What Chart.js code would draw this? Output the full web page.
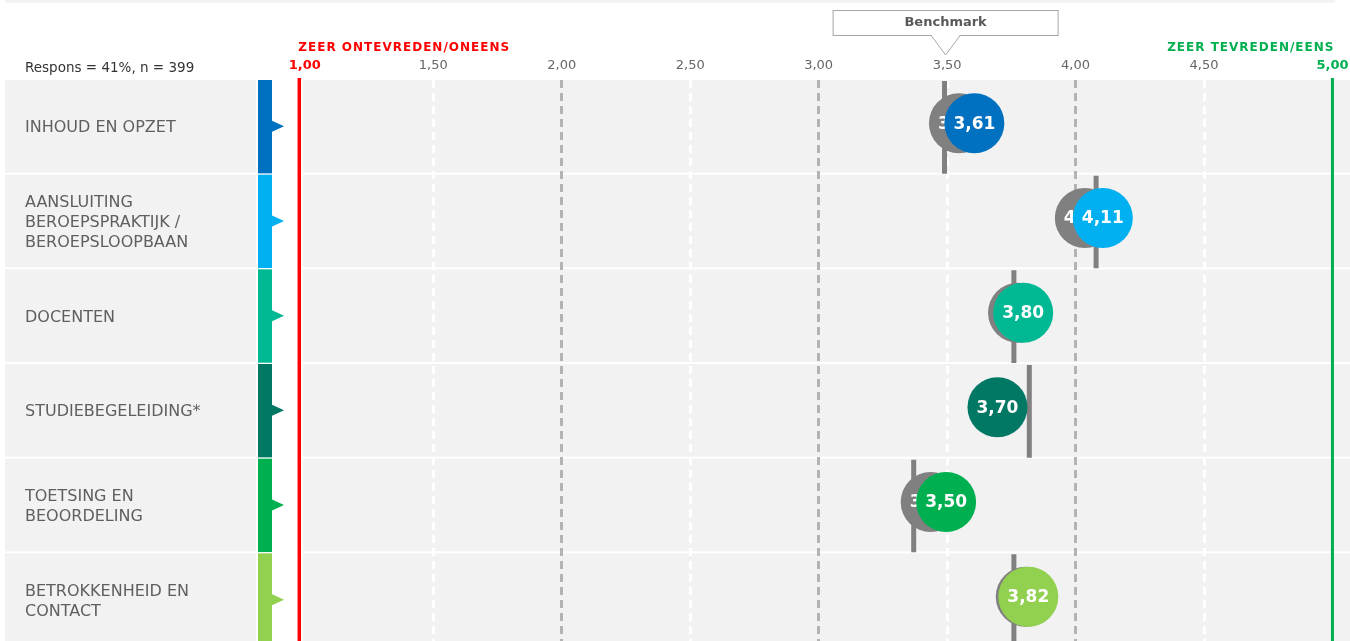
<!DOCTYPE html>
<html>
<head>
<meta charset="utf-8">
<script src="https://cdn.jsdelivr.net/npm/chart.js@4.4.0/dist/chart.umd.min.js"></script>
<style>
  html, body { margin: 0; padding: 0; overflow: hidden; background: #fff; }
  #wrap { width: 1350px; height: 648px; position: relative; }
</style>
</head>
<body>
<div id="wrap"><canvas id="chart-scores"></canvas></div>
<script>
// rows, top to bottom
const categories = [
  ['INHOUD EN OPZET'],
  ['AANSLUITING', 'BEROEPSPRAKTIJK /', 'BEROEPSLOOPBAAN'],
  ['DOCENTEN'],
  ['STUDIEBEGELEIDING*'],
  ['TOETSING EN', 'BEOORDELING'],
  ['BETROKKENHEID EN', 'CONTACT']
];
const scores    = [3.61, 4.11, 3.80, 3.70, 3.50, 3.82];
const previous  = [3.55, 4.04, 3.78, null, 3.44, 3.81];
const benchmark = [3.49, 4.08, 3.76, 3.82, 3.37, 3.76];
const tickValues = [1, 1.5, 2, 2.5, 3, 3.5, 4, 4.5, 5];
const tickLabels = ['1,00', '1,50', '2,00', '2,50', '3,00', '3,50', '4,00', '4,50', '5,00'];
const calloutValue = 3.5;

const rowColors = ['#0070c0', '#00b0f0', '#00b894', '#007864', '#00b050', '#92d050'];
const FONT = 'DejaVu Sans';
const grey = '#808080';

const fmt = v => v.toFixed(2).replace('.', ',');

const rowsPlugin = {
  id: 'rows',
  beforeDraw(chart) {
    const ctx = chart.ctx, xs = chart.scales.x, ys = chart.scales.y;
    const W = chart.width;
    ctx.save();
    // thin bar on top
    ctx.fillStyle = '#f2f2f2';
    ctx.fillRect(5, 0, 1330, 2.5);

    const left = xs.getPixelForValue(1) - 2;
    categories.forEach((lines, i) => {
      const y0 = ys.getPixelForValue(i), y1 = ys.getPixelForValue(i + 1);
      const h = y1 - y0;
      ctx.fillStyle = '#f2f2f2';
      ctx.fillRect(5, y0, 251, h - 2);
      ctx.fillRect(left, y0, W - left, h - 2);
      // colour bar with arrow
      ctx.fillStyle = rowColors[i];
      ctx.fillRect(258, y0, 14, h - 1.3);
      const yc = y0 + (h - 2) / 2;
      ctx.beginPath();
      ctx.moveTo(271, yc - 6);
      ctx.lineTo(284, yc);
      ctx.lineTo(271, yc + 6);
      ctx.closePath();
      ctx.fill();
      // label
      ctx.fillStyle = '#5f5f5f';
      ctx.font = '16px "' + FONT + '"';
      ctx.textAlign = 'left';
      ctx.textBaseline = 'middle';
      const lh = 20;
      const start = yc + 2 - (lines.length - 1) * lh / 2;
      lines.forEach((t, k) => ctx.fillText(t, 25, start + k * lh));
    });

    // header texts
    ctx.textBaseline = 'alphabetic';
    ctx.fillStyle = '#333';
    ctx.font = '13.5px "' + FONT + '"';
    ctx.fillText('Respons = 41%, n = 399', 25, 71.5);

    ctx.font = 'bold 12px "' + FONT + '"';
    ctx.letterSpacing = '1px';
    ctx.fillStyle = '#ff0000';
    ctx.textAlign = 'left';
    ctx.fillText('ZEER ONTEVREDEN/ONEENS', xs.getPixelForValue(1) - 6.5, 51);
    ctx.fillStyle = '#00b050';
    ctx.textAlign = 'right';
    ctx.fillText('ZEER TEVREDEN/EENS', xs.getPixelForValue(5) + 2, 51);
    ctx.letterSpacing = '0px';

    // benchmark callout
    const bx = xs.getPixelForValue(calloutValue) - 1.5;
    ctx.fillStyle = '#fff';
    ctx.strokeStyle = '#a6a6a6';
    ctx.lineWidth = 1;
    ctx.fillRect(bx - 112.5, 10.5, 225, 25);
    ctx.strokeRect(bx - 112.5, 10.5, 225, 25);
    ctx.beginPath();
    ctx.moveTo(bx - 14.5, 35.5);
    ctx.lineTo(bx, 55);
    ctx.lineTo(bx + 14.5, 35.5);
    ctx.fill();
    ctx.stroke();
    ctx.fillRect(bx - 13.5, 34, 27, 2);
    ctx.fillStyle = '#595959';
    ctx.font = 'bold 13px "' + FONT + '"';
    ctx.textAlign = 'center';
    ctx.textBaseline = 'middle';
    ctx.fillText('Benchmark', bx, 23);
    ctx.restore();
  },
  beforeDatasetsDraw(chart) {
    const ctx = chart.ctx, xs = chart.scales.x, area = chart.chartArea;
    ctx.save();
    ctx.fillStyle = '#ff0000';
    ctx.fillRect(xs.getPixelForValue(1) - 7.3, area.top - 2, 3.5, area.bottom - area.top + 2);
    ctx.fillStyle = '#00b050';
    ctx.fillRect(xs.getPixelForValue(5) - 1.5, area.top - 2, 3, area.bottom - area.top + 2);
    ctx.restore();
  },
  beforeDatasetDraw(chart, args) {
    const ds = chart.data.datasets[args.index];
    if (ds.lift) {
      chart.ctx.save();
      chart.ctx.translate(-1, -ds.lift);
    }
  },
  afterDatasetDraw(chart, args) {
    const ds = chart.data.datasets[args.index];
    const ctx = chart.ctx;
    if (ds.valueLabels) {
      ctx.save();
      ctx.fillStyle = '#fff';
      ctx.font = 'bold 17px "' + FONT + '"';
      ctx.textAlign = 'center';
      ctx.textBaseline = 'middle';
      args.meta.data.forEach((pt, j) => {
        ctx.fillText(fmt(ds.data[j].x), pt.x, pt.y + 1);
      });
      ctx.restore();
    }
    if (ds.lift) ctx.restore();
  }
};

const rowHalf = c => {
  const ys = c.chart.scales.y;
  return Math.abs(ys.getPixelForValue(1) - ys.getPixelForValue(0)) / 2 - 1;
};

new Chart(document.getElementById('chart-scores'), {
  type: 'scatter',
  data: {
    datasets: [
      {
        label: 'Score',
        order: 0,
        valueLabels: true,
        lift: 4,
        data: scores.map((v, i) => ({ x: v, y: i + 0.5 })),
        pointRadius: 30,
        pointBackgroundColor: rowColors,
        pointBorderWidth: 0
      },
      {
        label: 'Vorige meting',
        order: 1,
        valueLabels: true,
        lift: 4,
        data: previous.map((v, i) => v == null ? null : { x: v, y: i + 0.5 }).filter(Boolean),
        pointRadius: 30,
        pointBackgroundColor: grey,
        pointBorderWidth: 0
      },
      {
        label: 'Benchmark',
        order: 2,
        data: benchmark.map((v, i) => ({ x: v, y: i + 0.5 })),
        pointStyle: 'line',
        rotation: 90,
        pointRadius: rowHalf,
        pointBorderColor: grey,
        pointBorderWidth: 5,
        pointBackgroundColor: grey
      }
    ]
  },
  options: {
    responsive: true,
    maintainAspectRatio: false,
    animation: false,
    events: [],
    layout: { autoPadding: false, padding: { left: 304.85, right: 17.55, top: 0, bottom: 0 } },
    plugins: {
      legend: { display: false },
      tooltip: { enabled: false }
    },
    scales: {
      x: {
        type: 'linear',
        position: 'top',
        min: 1,
        max: 5,
        afterBuildTicks: s => { s.ticks = tickValues.map(v => ({ value: v })); },
        afterFit: s => { s.height = 80; },
        grid: {
          drawTicks: false,
          lineWidth: 3,
          color: c => {
            const v = c.tick ? c.tick.value : null;
            if (v === 1 || v === 5 || v == null) return 'rgba(0,0,0,0)';
            return Number.isInteger(v) ? '#b3b3b3' : '#ffffff';
          }
        },
        border: { display: false, dash: [8, 5] },
        ticks: {
          padding: 0,
          autoSkip: false,
          maxRotation: 0,
          callback: (v, i) => tickLabels[i],
          color: c => {
            const v = c.tick ? c.tick.value : null;
            if (v === 1) return '#ff0000';
            if (v === 5) return '#00b050';
            return '#666666';
          },
          font: c => {
            const v = c.tick ? c.tick.value : null;
            return (v === 1 || v === 5)
              ? { family: FONT, size: 13, weight: 'bold', lineHeight: 2.2 }
              : { family: FONT, size: 13, lineHeight: 2.2 };
          }
        }
      },
      y: {
        type: 'linear',
        min: 0,
        max: 6,
        reverse: true,
        display: false
      }
    }
  },
  plugins: [rowsPlugin]
});
</script>
</body>
</html>
